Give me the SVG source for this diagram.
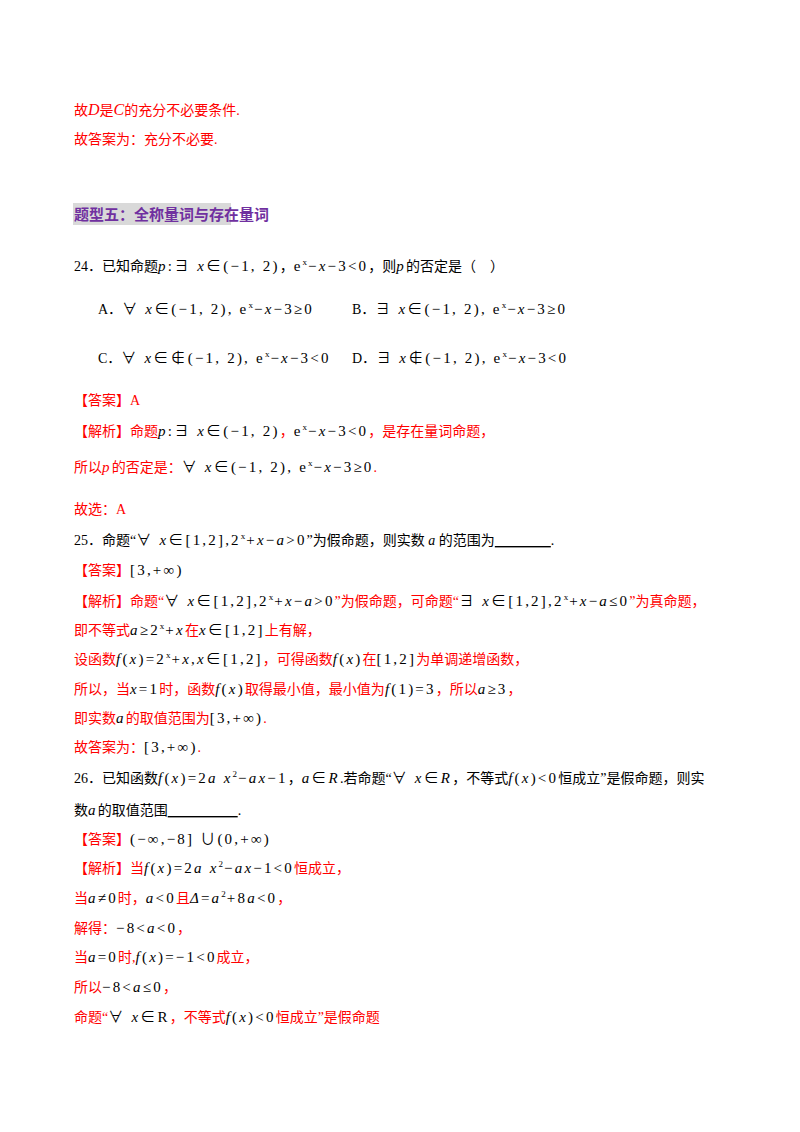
<svg xmlns="http://www.w3.org/2000/svg" width="800" height="1132" viewBox="0 0 800 1132">
<style>
text{font-family:"Liberation Serif","Noto Sans CJK SC",serif;font-size:14px;fill:#000}
.r{fill:#ff0000}
.k{fill:#000}
.m{font-size:15px;letter-spacing:2.2px}
.i{font-style:italic}
.t{font-family:"Noto Sans CJK SC",sans-serif;font-weight:bold;font-size:15px;fill:#7030a0}
.s{font-size:9px;letter-spacing:1px}
</style>
<rect width="800" height="1132" fill="#fff"/>
<g id="top">
<text x="74" y="115" class="r">故<tspan class="i" font-size="16">D</tspan>是<tspan class="i" font-size="16">C</tspan>的充分不必要条件.</text>
<text x="74" y="144" class="r">故答案为：充分不必要.</text>
</g>
<g id="title">
<rect x="73" y="203" width="158" height="22" fill="#d9d9d9"/>
<text x="74" y="220" class="t">题型五：全称量词与存在量词</text>
</g>
<g id="q24">
<text x="74" y="271">24．已知命题<tspan class="m"><tspan class="i">p</tspan>:∃ <tspan class="i">x</tspan>∈(−1, 2)</tspan>，<tspan class="m">e<tspan class="s" dy="-6">x</tspan><tspan dy="6">−</tspan><tspan class="i">x</tspan>−3&lt;0</tspan>，则<tspan class="m i">p</tspan>的否定是（　）</text>
<text x="98" y="314">A．<tspan class="m">∀ <tspan class="i">x</tspan>∈(−1, 2), e<tspan class="s" dy="-6">x</tspan><tspan dy="6">−</tspan><tspan class="i">x</tspan>−3≥0</tspan></text>
<text x="352" y="314">B．<tspan class="m">∃ <tspan class="i">x</tspan>∈(−1, 2), e<tspan class="s" dy="-6">x</tspan><tspan dy="6">−</tspan><tspan class="i">x</tspan>−3≥0</tspan></text>
<text x="98" y="363">C．<tspan class="m">∀ <tspan class="i">x</tspan>∈∉(−1, 2), e<tspan class="s" dy="-6">x</tspan><tspan dy="6">−</tspan><tspan class="i">x</tspan>−3&lt;0</tspan></text>
<text x="352" y="363">D．<tspan class="m">∃ <tspan class="i">x</tspan>∉(−1, 2), e<tspan class="s" dy="-6">x</tspan><tspan dy="6">−</tspan><tspan class="i">x</tspan>−3&lt;0</tspan></text>
<text x="74" y="405" class="r">【答案】A</text>
<text x="74" y="436" class="r">【解析】命题<tspan class="k m"><tspan class="i">p</tspan>:∃ <tspan class="i">x</tspan>∈(−1, 2)</tspan>，<tspan class="k m">e<tspan class="s" dy="-6">x</tspan><tspan dy="6">−</tspan><tspan class="i">x</tspan>−3&lt;0</tspan>，是存在量词命题，</text>
<text x="74" y="472" class="r">所以<tspan class="i m">p</tspan>的否定是：<tspan class="k m">∀ <tspan class="i">x</tspan>∈(−1, 2), e<tspan class="s" dy="-6">x</tspan><tspan dy="6">−</tspan><tspan class="i">x</tspan>−3≥0</tspan>.</text>
<text x="74" y="514" class="r">故选：A</text>
</g>
<g id="q25">
<text x="74" y="545">25．命题“<tspan class="m">∀ <tspan class="i">x</tspan>∈[1,2],2<tspan class="s" dy="-6">x</tspan><tspan dy="6">+</tspan><tspan class="i">x</tspan>−<tspan class="i">a</tspan>&gt;0</tspan>”为假命题，则实数 <tspan class="i">a</tspan> 的范围为<tspan text-decoration="underline">　　　　</tspan>.</text>
<text x="74" y="575" class="r">【答案】<tspan class="k m">[3,+∞)</tspan></text>
<text x="74" y="606" class="r">【解析】命题“<tspan class="k m">∀ <tspan class="i">x</tspan>∈[1,2],2<tspan class="s" dy="-6">x</tspan><tspan dy="6">+</tspan><tspan class="i">x</tspan>−<tspan class="i">a</tspan>&gt;0</tspan>”为假命题，可命题“<tspan class="k m">∃ <tspan class="i">x</tspan>∈[1,2],2<tspan class="s" dy="-6">x</tspan><tspan dy="6">+</tspan><tspan class="i">x</tspan>−<tspan class="i">a</tspan>≤0</tspan>”为真命题，</text>
<text x="74" y="635" class="r">即不等式<tspan class="k m"><tspan class="i">a</tspan>≥2<tspan class="s" dy="-6">x</tspan><tspan dy="6">+</tspan><tspan class="i">x</tspan></tspan>在<tspan class="k m"><tspan class="i">x</tspan>∈[1,2]</tspan>上有解，</text>
<text x="74" y="664" class="r">设函数<tspan class="k m"><tspan class="i">f</tspan>(<tspan class="i">x</tspan>)=2<tspan class="s" dy="-6">x</tspan><tspan dy="6">+</tspan><tspan class="i">x</tspan>,<tspan class="i">x</tspan>∈[1,2]</tspan>，可得函数<tspan class="k m"><tspan class="i">f</tspan>(<tspan class="i">x</tspan>)</tspan>在<tspan class="k m">[1,2]</tspan>为单调递增函数，</text>
<text x="74" y="694" class="r">所以，当<tspan class="k m"><tspan class="i">x</tspan>=1</tspan>时，函数<tspan class="k m"><tspan class="i">f</tspan>(<tspan class="i">x</tspan>)</tspan>取得最小值，最小值为<tspan class="k m"><tspan class="i">f</tspan>(1)=3</tspan>，所以<tspan class="k m"><tspan class="i">a</tspan>≥3</tspan>，</text>
<text x="74" y="723" class="r">即实数<tspan class="k m i">a</tspan>的取值范围为<tspan class="k m">[3,+∞)</tspan>.</text>
<text x="74" y="752" class="r">故答案为：<tspan class="k m">[3,+∞)</tspan>.</text>
</g>
<g id="q26">
<text x="74" y="783">26．已知函数<tspan class="m"><tspan class="i">f</tspan>(<tspan class="i">x</tspan>)=2<tspan class="i">a x</tspan><tspan class="s" dy="-6">2</tspan><tspan dy="6">−</tspan><tspan class="i">ax</tspan>−1</tspan>，<tspan class="m"><tspan class="i">a</tspan>∈<tspan class="i">R</tspan></tspan>.若命题“<tspan class="m">∀ <tspan class="i">x</tspan>∈<tspan class="i">R</tspan></tspan>，不等式<tspan class="m"><tspan class="i">f</tspan>(<tspan class="i">x</tspan>)&lt;0</tspan>恒成立”是假命题，则实</text>
<text x="74" y="815">数<tspan class="m i">a</tspan>的取值范围<tspan text-decoration="underline">　　　　　</tspan>.</text>
<text x="74" y="844" class="r">【答案】<tspan class="k m">(−∞,−8] ∪(0,+∞)</tspan></text>
<text x="74" y="873" class="r">【解析】当<tspan class="k m"><tspan class="i">f</tspan>(<tspan class="i">x</tspan>)=2<tspan class="i">a x</tspan><tspan class="s" dy="-6">2</tspan><tspan dy="6">−</tspan><tspan class="i">ax</tspan>−1&lt;0</tspan>恒成立，</text>
<text x="74" y="903" class="r">当<tspan class="k m"><tspan class="i">a</tspan>≠0</tspan>时，<tspan class="k m"><tspan class="i">a</tspan>&lt;0</tspan>且<tspan class="k m"><tspan class="i">Δ</tspan>=<tspan class="i">a</tspan><tspan class="s" dy="-6">2</tspan><tspan dy="6">+8</tspan><tspan class="i">a</tspan>&lt;0</tspan>，</text>
<text x="74" y="933" class="r">解得：<tspan class="k m">−8&lt;<tspan class="i">a</tspan>&lt;0</tspan>，</text>
<text x="74" y="962" class="r">当<tspan class="k m"><tspan class="i">a</tspan>=0</tspan>时,<tspan class="k m"><tspan class="i">f</tspan>(<tspan class="i">x</tspan>)=−1&lt;0</tspan>成立，</text>
<text x="74" y="992" class="r">所以<tspan class="k m">−8&lt;<tspan class="i">a</tspan>≤0</tspan>，</text>
<text x="74" y="1022" class="r">命题“<tspan class="k m">∀ <tspan class="i">x</tspan>∈R</tspan>，不等式<tspan class="k m"><tspan class="i">f</tspan>(<tspan class="i">x</tspan>)&lt;0</tspan>恒成立”是假命题</text>
</g>
</svg>
